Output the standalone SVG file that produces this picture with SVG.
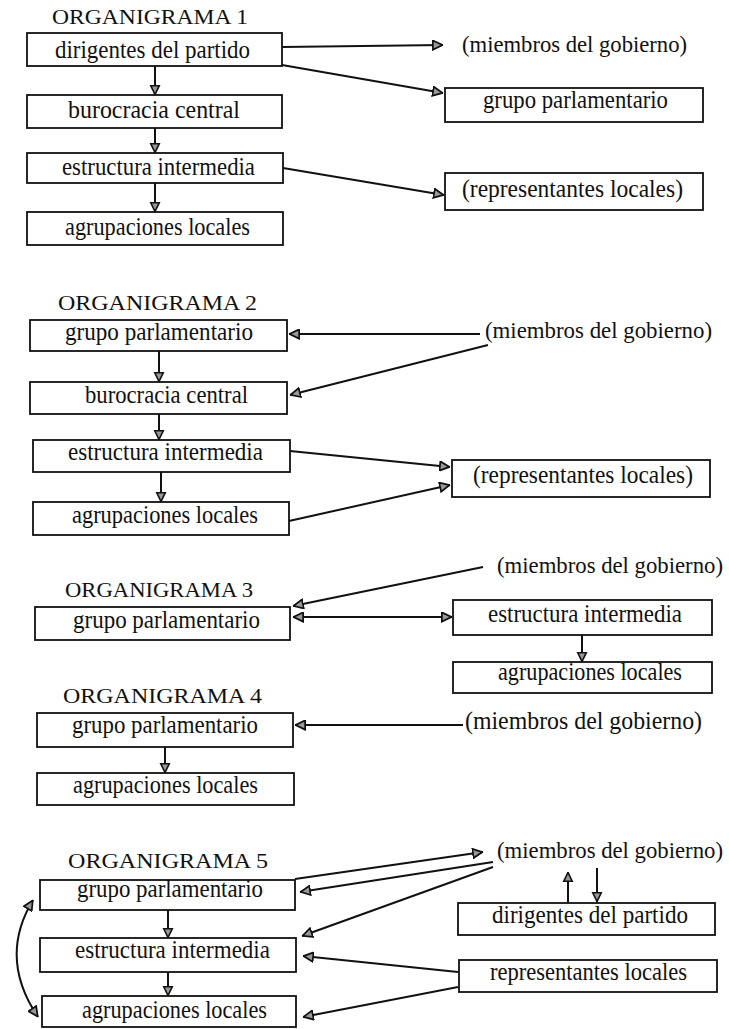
<svg xmlns="http://www.w3.org/2000/svg" width="729" height="1029" viewBox="0 0 729 1029">
<style>
.box{fill:none;stroke:#111;stroke-width:1.8}
text{font-family:"Liberation Serif",serif;font-size:25px;fill:#111}
.t{font-size:22px}
.m{font-size:23px}
.c{fill:none;stroke:#111;stroke-width:2}
</style>
<defs>
<marker id="ah" viewBox="0 0 10 10" refX="10" refY="5" markerWidth="11" markerHeight="11" markerUnits="userSpaceOnUse" orient="auto-start-reverse">
<path d="M0.8,0.8 L9.5,5 L0.8,9.2 Z" fill="#999" stroke="#111" stroke-width="1.6"/>
</marker>
<marker id="ad" viewBox="0 0 10 10" refX="10" refY="5" markerWidth="10" markerHeight="13" markerUnits="userSpaceOnUse" orient="auto">
<path d="M0.8,0.8 L9.5,5 L0.8,9.2 Z" fill="#999" stroke="#111" stroke-width="1.6"/>
</marker>
</defs>
<rect width="729" height="1029" fill="#fff"/>

<!-- ORGANIGRAMA 1 -->
<text class="t" x="52" y="24" textLength="196" lengthAdjust="spacingAndGlyphs">ORGANIGRAMA 1</text>
<g id="o1-dirigentes"><rect class="box" x="27" y="33" width="255" height="33"/><text x="55" y="58" textLength="195" lengthAdjust="spacingAndGlyphs">dirigentes del partido</text></g>
<g id="o1-burocracia"><rect class="box" x="27" y="95" width="255" height="33"/><text x="68" y="118" textLength="172" lengthAdjust="spacingAndGlyphs">burocracia central</text></g>
<g id="o1-estructura"><rect class="box" x="27" y="153" width="256" height="30"/><text x="62" y="175" textLength="193" lengthAdjust="spacingAndGlyphs">estructura intermedia</text></g>
<g id="o1-agrupaciones"><rect class="box" x="27" y="212" width="256" height="33"/><text x="65" y="235" textLength="185" lengthAdjust="spacingAndGlyphs">agrupaciones locales</text></g>
<g id="o1-miembros"><text class="m" x="462" y="52" textLength="225" lengthAdjust="spacingAndGlyphs">(miembros del gobierno)</text></g>
<g id="o1-grupo"><rect class="box" x="445" y="88" width="258" height="34"/><text x="483" y="108" textLength="185" lengthAdjust="spacingAndGlyphs">grupo parlamentario</text></g>
<g id="o1-representantes"><rect class="box" x="445" y="173" width="258" height="37"/><text x="462" y="197" textLength="221" lengthAdjust="spacingAndGlyphs">(representantes locales)</text></g>

<!-- ORGANIGRAMA 2 -->
<text class="t" x="58" y="310" textLength="199" lengthAdjust="spacingAndGlyphs">ORGANIGRAMA 2</text>
<g id="o2-grupo"><rect class="box" x="30" y="320" width="257" height="31"/><text x="65" y="340" textLength="188" lengthAdjust="spacingAndGlyphs">grupo parlamentario</text></g>
<g id="o2-burocracia"><rect class="box" x="30" y="382" width="257" height="32"/><text x="85" y="403" textLength="163" lengthAdjust="spacingAndGlyphs">burocracia central</text></g>
<g id="o2-estructura"><rect class="box" x="33" y="440" width="257" height="32"/><text x="68" y="460" textLength="195" lengthAdjust="spacingAndGlyphs">estructura intermedia</text></g>
<g id="o2-agrupaciones"><rect class="box" x="33" y="502" width="256" height="33"/><text x="72" y="523" textLength="186" lengthAdjust="spacingAndGlyphs">agrupaciones locales</text></g>
<g id="o2-miembros"><text class="m" x="485" y="338" textLength="227" lengthAdjust="spacingAndGlyphs">(miembros del gobierno)</text></g>
<g id="o2-representantes"><rect class="box" x="452" y="460" width="258" height="37"/><text x="473" y="483" textLength="220" lengthAdjust="spacingAndGlyphs">(representantes locales)</text></g>

<!-- ORGANIGRAMA 3 -->
<g id="o3-miembros"><text class="m" x="497" y="573" textLength="226" lengthAdjust="spacingAndGlyphs">(miembros del gobierno)</text></g>
<text class="t" x="65" y="597" textLength="188" lengthAdjust="spacingAndGlyphs">ORGANIGRAMA 3</text>
<g id="o3-grupo"><rect class="box" x="35" y="607" width="255" height="33"/><text x="73" y="628" textLength="187" lengthAdjust="spacingAndGlyphs">grupo parlamentario</text></g>
<g id="o3-estructura"><rect class="box" x="453" y="600" width="259" height="35"/><text x="488" y="622" textLength="194" lengthAdjust="spacingAndGlyphs">estructura intermedia</text></g>
<g id="o3-agrupaciones"><rect class="box" x="453" y="662" width="259" height="31"/><text x="498" y="680" textLength="184" lengthAdjust="spacingAndGlyphs">agrupaciones locales</text></g>

<!-- ORGANIGRAMA 4 -->
<text class="t" x="63" y="703" textLength="199" lengthAdjust="spacingAndGlyphs">ORGANIGRAMA 4</text>
<g id="o4-grupo"><rect class="box" x="37" y="713" width="256" height="34"/><text x="72" y="733" textLength="186" lengthAdjust="spacingAndGlyphs">grupo parlamentario</text></g>
<g id="o4-miembros"><text x="465" y="729" textLength="237" lengthAdjust="spacingAndGlyphs">(miembros del gobierno)</text></g>
<g id="o4-agrupaciones"><rect class="box" x="37" y="773" width="257" height="32"/><text x="73" y="793" textLength="185" lengthAdjust="spacingAndGlyphs">agrupaciones locales</text></g>

<!-- ORGANIGRAMA 5 -->
<text class="t" x="68" y="868" textLength="200" lengthAdjust="spacingAndGlyphs">ORGANIGRAMA 5</text>
<g id="o5-grupo"><rect class="box" x="40" y="880" width="255" height="30"/><text x="77" y="897" textLength="186" lengthAdjust="spacingAndGlyphs">grupo parlamentario</text></g>
<g id="o5-estructura"><rect class="box" x="40" y="938" width="256" height="34"/><text x="75" y="958" textLength="195" lengthAdjust="spacingAndGlyphs">estructura intermedia</text></g>
<g id="o5-agrupaciones"><rect class="box" x="42" y="996" width="254" height="31"/><text x="82" y="1018" textLength="185" lengthAdjust="spacingAndGlyphs">agrupaciones locales</text></g>
<g id="o5-miembros"><text class="m" x="497" y="858" textLength="226" lengthAdjust="spacingAndGlyphs">(miembros del gobierno)</text></g>
<g id="o5-dirigentes"><rect class="box" x="458" y="903" width="257" height="32"/><text x="492" y="923" textLength="196" lengthAdjust="spacingAndGlyphs">dirigentes del partido</text></g>
<g id="o5-representantes"><rect class="box" x="459" y="960" width="258" height="32"/><text x="490" y="980" textLength="197" lengthAdjust="spacingAndGlyphs">representantes locales</text></g>

<g id="connectors">
<!-- O1 -->
<line class="c" x1="155" y1="66" x2="155" y2="95" marker-end="url(#ad)"/>
<line class="c" x1="155" y1="128" x2="155" y2="153" marker-end="url(#ad)"/>
<line class="c" x1="155" y1="183" x2="155" y2="212" marker-end="url(#ad)"/>
<line class="c" x1="282" y1="47" x2="443" y2="45" marker-end="url(#ah)"/>
<line class="c" x1="282" y1="65" x2="443" y2="93" marker-end="url(#ah)"/>
<line class="c" x1="283" y1="168" x2="444" y2="195" marker-end="url(#ah)"/>
<!-- O2 -->
<line class="c" x1="159" y1="351" x2="159" y2="382" marker-end="url(#ad)"/>
<line class="c" x1="159" y1="414" x2="159" y2="440" marker-end="url(#ad)"/>
<line class="c" x1="161" y1="472" x2="161" y2="502" marker-end="url(#ad)"/>
<line class="c" x1="480" y1="334" x2="289" y2="334" marker-end="url(#ah)"/>
<line class="c" x1="488" y1="345" x2="290" y2="395" marker-end="url(#ah)"/>
<line class="c" x1="290" y1="451" x2="450" y2="467" marker-end="url(#ah)"/>
<line class="c" x1="289" y1="521" x2="450" y2="485" marker-end="url(#ah)"/>
<!-- O3 -->
<line class="c" x1="483" y1="567" x2="293" y2="606" marker-end="url(#ah)"/>
<line class="c" x1="293" y1="617" x2="452" y2="617" marker-start="url(#ah)" marker-end="url(#ah)"/>
<line class="c" x1="582" y1="635" x2="582" y2="662" marker-end="url(#ad)"/>
<!-- O4 -->
<line class="c" x1="463" y1="725" x2="295" y2="725" marker-end="url(#ah)"/>
<line class="c" x1="165" y1="747" x2="165" y2="773" marker-end="url(#ad)"/>
<!-- O5 -->
<line class="c" x1="168" y1="910" x2="168" y2="938" marker-end="url(#ad)"/>
<line class="c" x1="168" y1="972" x2="168" y2="996" marker-end="url(#ad)"/>
<line class="c" x1="295" y1="879" x2="483" y2="852" marker-end="url(#ah)"/>
<line class="c" x1="493" y1="862" x2="300" y2="892" marker-end="url(#ah)"/>
<line class="c" x1="493" y1="867" x2="302" y2="936" marker-end="url(#ah)"/>
<line class="c" x1="458" y1="972" x2="303" y2="956" marker-end="url(#ah)"/>
<line class="c" x1="458" y1="987" x2="303" y2="1017" marker-end="url(#ah)"/>
<line class="c" x1="568" y1="903" x2="568" y2="872" marker-end="url(#ad)"/>
<line class="c" x1="597" y1="868" x2="597" y2="902" marker-end="url(#ad)"/>
<path class="c" d="M33,900 Q-2,958 38,1017" marker-start="url(#ah)" marker-end="url(#ah)"/>
</g>
</svg>
